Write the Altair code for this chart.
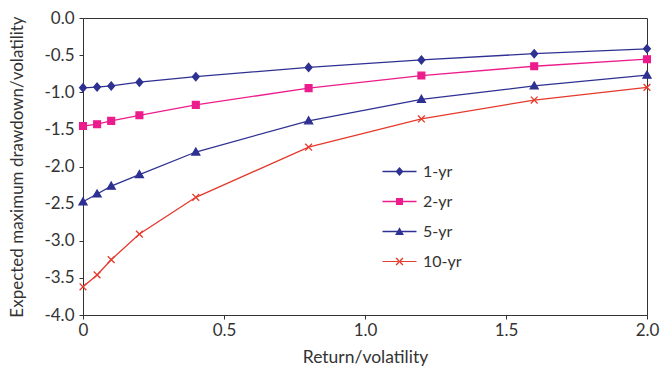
import altair as alt
import pandas as pd

# ---- data ----
x_vals = [0, 0.05, 0.1, 0.2, 0.4, 0.8, 1.2, 1.6, 2.0]
series_names = ["1-yr", "2-yr", "5-yr", "10-yr"]
y_1yr = [-0.94, -0.93, -0.915, -0.865, -0.79, -0.665, -0.565, -0.48, -0.415]
y_2yr = [-1.455, -1.43, -1.385, -1.31, -1.17, -0.945, -0.775, -0.65, -0.555]
y_5yr = [-2.475, -2.37, -2.265, -2.11, -1.805, -1.385, -1.095, -0.915, -0.77]
y_10yr = [-3.62, -3.46, -3.255, -2.91, -2.415, -1.74, -1.36, -1.105, -0.935]
x_ticks = [0, 0.5, 1.0, 1.5, 2.0]
y_ticks = [-4, -3.5, -3, -2.5, -2, -1.5, -1, -0.5, 0]

colors = ["#2E3192", "#EC1C8C", "#2E3192", "#E5392B"]

rows = []
for name, ys in zip(series_names, [y_1yr, y_2yr, y_5yr, y_10yr]):
    for xv, yv in zip(x_vals, ys):
        rows.append({"series": name, "x": xv, "y": yv})
df = pd.DataFrame(rows)

FONT = "Lato"
TXT = "#333333"

# marker shapes for the data points (unit box [-1,1])
pt_shapes = [
    "M0,-1L0.85,0L0,1L-0.85,0Z",
    "M-0.85,-0.85H0.85V0.85H-0.85Z",
    "M0,-1L1,0.75L-1,0.75Z",
    "M-0.85,-0.85L0.85,0.85M-0.85,0.85L0.85,-0.85",
]


def rect(x0, y0, x1, y1):
    return f"M{x0},{y0}H{x1}V{y1}H{x0}Z"


def xcross(a, e):
    r1 = f"M{-a+e},{-a-e}L{a+e},{a-e}L{a-e},{a+e}L{-a-e},{-a+e}Z"
    r2 = f"M{-a-e},{a-e}L{-a+e},{a+e}L{a+e},{-a+e}L{a-e},{-a-e}Z"
    return r1 + r2


lw = 0.09
line_seg = rect(-2, -lw, 2, lw)
leg_shapes = [
    line_seg + "M0,-0.53L0.47,0L0,0.53L-0.47,0Z",
    line_seg + "M-0.41,-0.41H0.41V0.41H-0.41Z",
    line_seg + "M0,-0.5L0.52,0.4L-0.52,0.4Z",
    rect(-2, -0.06, 2, 0.06) + xcross(0.4, 0.06),
]

x_enc = alt.X(
    "x:Q",
    scale=alt.Scale(domain=[0, 2], nice=False),
    axis=alt.Axis(
        title="Return/volatility",
        values=x_ticks,
        labelExpr="datum.value == 0 ? '0' : format(datum.value, '.1f')",
        grid=False,
        tickSize=4,
        labelPadding=3,
        titlePadding=10,
        labelOverlap=False,
        labelFlush=False,
        titleFontSize=17.5,
    ),
)
y_enc = alt.Y(
    "y:Q",
    scale=alt.Scale(domain=[-4, 0], nice=False),
    axis=alt.Axis(
        title="Expected maximum drawdown/volatility",
        values=y_ticks,
        labelExpr="replace(format(datum.value, '.1f'), '\u2212', '-')",
        grid=False,
        tickSize=4,
        labelPadding=5,
        titlePadding=17,
        labelOverlap=False,
        labelFlush=False,
        titleFontSize=17,
    ),
)

color_scale = alt.Scale(domain=series_names, range=colors)

lines = alt.Chart(df).mark_line(strokeWidth=1.3).encode(
    x=x_enc,
    y=y_enc,
    color=alt.Color("series:N", scale=color_scale, legend=None),
    detail="series:N",
)

points = alt.Chart(df).mark_point(filled=True, size=64, strokeWidth=1.3, opacity=1).encode(
    x=x_enc,
    y=y_enc,
    color=alt.Color("series:N", scale=color_scale, legend=None),
    stroke=alt.Stroke("series:N", scale=color_scale, legend=None),
    shape=alt.Shape("series:N", scale=alt.Scale(domain=series_names, range=pt_shapes), legend=None),
)

legend_props = dict(
    title=None, orient="none", legendX=308, legendY=145,
    symbolSize=289, symbolOpacity=1, symbolStrokeWidth=0,
    labelFontSize=16, labelOffset=15, rowPadding=13, padding=0,
    labelFont=FONT, labelColor=TXT,
)

legend_layer = alt.Chart(df).mark_point(filled=True, opacity=0, size=289).encode(
    x=x_enc,
    y=y_enc,
    color=alt.Color("series:N", scale=color_scale, legend=alt.Legend(**legend_props)),
    shape=alt.Shape(
        "series:N",
        scale=alt.Scale(domain=series_names, range=leg_shapes),
        legend=alt.Legend(**legend_props),
    ),
)

chart = (
    alt.layer(lines, points, legend_layer)
    .resolve_scale(shape="independent", color="independent", stroke="independent")
    .properties(
        width=564,
        height=297,
        autosize=alt.AutoSizeParams(type="none"),
        padding={"left": 83, "top": 18, "right": 14, "bottom": 55},
    )
    .configure(font=FONT, background="white")
    .configure_view(stroke="#333333", strokeWidth=1)
    .configure_axis(
        domainColor="#333333",
        tickColor="#333333",
        labelColor=TXT,
        titleColor=TXT,
        labelFont=FONT,
        titleFont=FONT,
        labelFontSize=17,
        titleFontWeight="normal",
        labelOverlap=False,
        labelFlush=False,
    )
)

chart.save("out.html", embed_options={"renderer": "svg", "actions": False})
